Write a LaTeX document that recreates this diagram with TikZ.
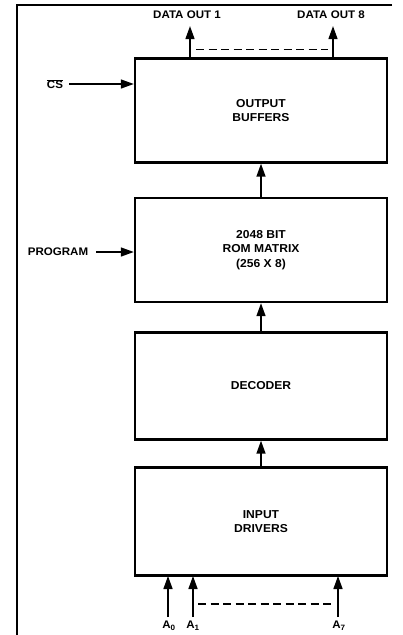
\documentclass[tikz,border=0pt]{standalone}
\usepackage{fontspec}
\setmainfont{Liberation Sans}[FakeStretch=1.05]
\usetikzlibrary{arrows.meta}
\begin{document}
\begin{tikzpicture}[x=1pt,y=-1pt,
  blk/.style={draw,line width=2.4pt,minimum width=252pt,align=center,inner sep=0pt,font=\fontsize{11.5}{14.5}\selectfont\bfseries},
  lbl/.style={inner sep=0pt,font=\fontsize{11}{12}\selectfont\bfseries},
  sig/.style={line width=1.5pt,-{Triangle[length=13pt,width=9pt]}},
  bus/.style={line width=1.6pt,dash pattern=on 8pt off 4.5pt}]
\useasboundingbox (0,0) rectangle (402,635);
\draw[line width=2pt] (392,5) -- (17,5) -- (17,635);
% blocks
\node[blk,minimum height=104pt] (ob) at (261,110.5) {OUTPUT\\BUFFERS};
\node[blk,minimum height=104pt] (rom) at (261,250) {2048 BIT\\ROM MATRIX\\(256 X 8)};
\node[blk,minimum height=107pt] (dec) at (261,386) {DECODER};
\node[blk,minimum height=108pt] (inp) at (261,521.5) {INPUT\\DRIVERS};
% internal arrows
\draw[sig] (inp.north) -- (dec.south);
\draw[sig] (dec.north) -- (rom.south);
\draw[sig] (rom.north) -- (ob.south);
% outputs
\coordinate (o1) at (190,58);
\coordinate (o8) at (333,58);
\node[lbl] (d1) at (187,15) {DATA OUT 1};
\node[lbl] (d8) at (331,15) {DATA OUT 8};
\draw[sig] (o1) -- ([yshift=-7pt]d1.south -| o1);
\draw[sig] (o8) -- ([yshift=-7pt]d8.south -| o8);
\draw[bus] (196,49.5) -- (328,49.5);
% control inputs
\node[lbl] (cs) at (55,84) {$\overline{\mbox{CS}}$};
\draw[sig] ([xshift=6pt]cs.east) -- (cs.east -| ob.west);
\node[lbl] (prg) at (58,252) {PROGRAM};
\draw[sig] ([xshift=8pt]prg.east) -- (prg.east -| rom.west);
% address inputs
\node[lbl] (a0) at (169,626) {A\textsubscript{0}};
\node[lbl] (a1) at (193,626) {A\textsubscript{1}};
\node[lbl] (a7) at (339,626) {A\textsubscript{7}};
\coordinate (i0) at (168,576);
\coordinate (i1) at (193,576);
\coordinate (i7) at (338,576);
\draw[sig] ([yshift=4pt]a0.north -| i0) -- (i0);
\draw[sig] ([yshift=4pt]a1.north -| i1) -- (i1);
\draw[sig] ([yshift=4pt]a7.north -| i7) -- (i7);
\draw[bus] (198,604) -- (333,604);
\end{tikzpicture}
\end{document}
